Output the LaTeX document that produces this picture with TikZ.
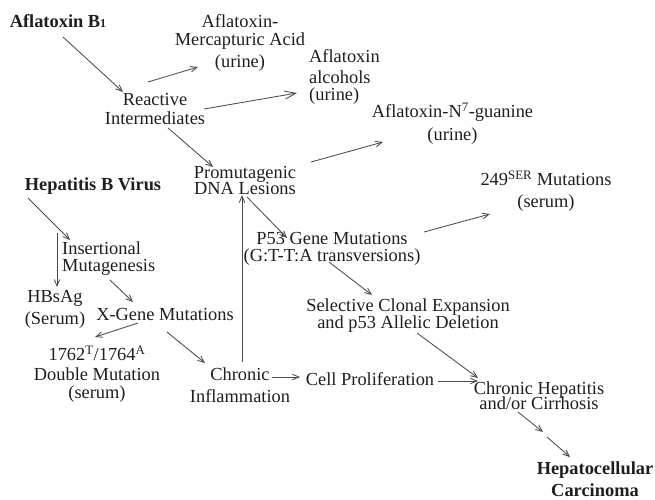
\documentclass[tikz,border=0pt]{standalone}
\usepackage{fontspec}
\setmainfont{Liberation Serif}
\usetikzlibrary{arrows.meta}
\definecolor{txtc}{HTML}{1E1E1E}
\definecolor{linec}{HTML}{4A4A4A}
\begin{document}
\begin{tikzpicture}[x=1pt,y=-1pt,
  lbl/.style={inner sep=0pt, align=center, text=txtc, font=\fontsize{18.4}{18}\selectfont},
  lbll/.style={lbl, align=left, anchor=west},
  bld/.style={lbl, font=\fontsize{18.4}{18}\selectfont\bfseries},
  arr/.style={draw=linec, line width=0.85pt, -{Straight Barb[length=6.5pt,width=5.5pt]}},
  arrbig/.style={draw=linec, line width=0.85pt, -{Straight Barb[length=11pt,width=8pt]}}]
\useasboundingbox (0,0) rectangle (655,499);
% nodes
\node[bld] (ab) at (58,21) {Aflatoxin B{\fontsize{12}{12}\selectfont 1}};
\node[lbl] (ma) at (240,43) {Aflatoxin-\\Mercapturic Acid\\[4pt](urine)};
\node[lbl] (ri) at (155,108.5) {Reactive\\[1pt]Intermediates};
\node[lbll] (aa) at (309,76.5) {Aflatoxin\\[3pt]alcohols\\[-1pt](urine)};
\node[lbl] (pd) at (245,180.5) {Promutagenic\\[-2pt]DNA Lesions};
\node[lbl] (an) at (452.5,123.5) {Aflatoxin-N\textsuperscript{7}-guanine\\[5pt](urine)};
\node[lbl] (s249) at (546,191) {249\textsuperscript{SER} Mutations\\[4pt](serum)};
\node[lbl] (p53) at (332,248.5) {P53 Gene Mutations\\[-1pt](G:T-T:A transversions)};
\node[bld] (hbv) at (93,186) {Hepatitis B Virus};
\node[lbll] (im) at (62,258.5) {Insertional\\[-1pt]Mutagenesis};
\node[lbl] (hbs) at (55,309) {HBsAg\\[4pt](Serum)};
\node[lbl] (xg) at (165,314) {X-Gene Mutations};
\node[lbl] (dm) at (97,374) {1762\textsuperscript{T}/1764\textsuperscript{A}\\[2pt]Double Mutation\\(serum)};
\node[lbl] (ci) at (240,385) {Chronic\\[4pt]Inflammation};
\node[lbl] (cp) at (370,379) {Cell Proliferation};
\node[lbl] (sc) at (408,315.5) {Selective Clonal Expansion\\[-1pt]and p53 Allelic Deletion};
\node[lbl] (ch) at (539,396) {Chronic Hepatitis\\[-3pt]and/or Cirrhosis};
\node[bld] (hc) at (595,479) {Hepatocellular\\[4pt]Carcinoma};
\coordinate (brka) at (543,432);
\coordinate (brkb) at (547,437);
% connectors
\draw[arr] ([shift={(5,16)}]ab.center) -- ([shift={(-32,-16.5)}]ri.center);
\draw[arr] ([shift={(-7,-26.5)}]ri.center) -- ([shift={(-42,24)}]ma.center);
\draw[arrbig] ([shift={(49,0.5)}]ri.center) -- ([shift={(-12,16.5)}]aa.west);
\draw[arr] ([shift={(13,19.5)}]ri.center) -- ([shift={(-32,-13.5)}]pd.center);
\draw[arr] ([shift={(66,-18.5)}]pd.center) -- ([shift={(-69.5,18.5)}]an.center);
\draw[arr] ([shift={(2,16.5)}]pd.center) -- ([shift={(-45,-10.5)}]p53.center);
\draw[arr] ([shift={(2,-23)}]ci.center) -- ([shift={(-3,14.5)}]pd.center);
\draw[arr] ([shift={(-65,12)}]hbv.center) -- ([shift={(8,-18.5)}]im.west);
\draw[arr] ([shift={(-36,47)}]hbv.center) -- ([shift={(2,-22)}]hbs.center);
\draw[arr] ([shift={(48,21.5)}]im.west) -- ([shift={(-32,-12)}]xg.center);
\draw[arr] ([shift={(-27,9)}]xg.center) -- ([shift={(-2,-37)}]dm.center);
\draw[arr] ([shift={(2,18)}]xg.center) -- ([shift={(-35,-22)}]ci.center);
\draw[arr] ([shift={(32,-8)}]ci.center) -- ([shift={(-70,-2)}]cp.center);
\draw[arr] ([shift={(68,2)}]cp.center) -- ([shift={(-61,-15)}]ch.center);
\draw[arr] ([shift={(92,-16.5)}]p53.center) -- ([shift={(-56,23)}]s249.center);
\draw[arr] ([shift={(-3,13.5)}]p53.center) -- ([shift={(-36,-20.5)}]sc.center);
\draw[arr] ([shift={(9,17.5)}]sc.center) -- ([shift={(-61,-18)}]ch.center);
\draw[arr] ([shift={(-21,16)}]ch.center) -- (brka);
\draw[arr] (brkb) -- ([shift={(-25,-22)}]hc.center);
\end{tikzpicture}
\end{document}
